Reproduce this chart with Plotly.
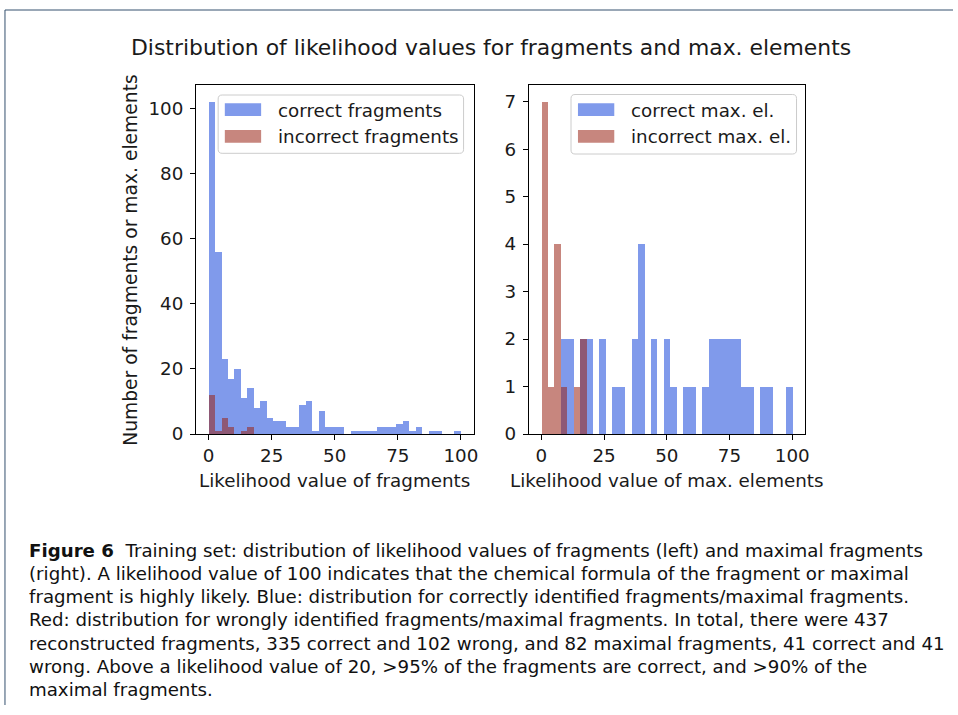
import numpy as np
import plotly.graph_objects as go

# ---------------- data ----------------
BIN_COUNT = 39          # histogram bins between 0 and 100
X_LOW, X_HIGH = 0, 100

frag_correct = [102, 56, 23, 17, 20, 11, 14, 8, 10, 5, 4, 4, 2, 2, 9, 10, 1, 7, 2, 2,
                2, 0, 1, 1, 1, 1, 2, 2, 2, 3, 4, 1, 2, 0, 1, 1, 0, 0, 1]
frag_incorrect = [12, 1, 5, 2, 0, 1, 2, 0, 0, 0, 0, 0, 0, 0, 0, 0, 0, 0, 0, 0,
                  0, 0, 0, 0, 0, 0, 0, 0, 0, 0, 0, 0, 0, 0, 0, 0, 0, 0, 0]
maxel_correct = [0, 0, 0, 2, 2, 0, 2, 2, 0, 2, 0, 1, 1, 0, 2, 4, 0, 2, 0, 2,
                 1, 0, 1, 1, 0, 1, 2, 2, 2, 2, 2, 1, 1, 0, 1, 1, 0, 0, 1]
maxel_incorrect = [7, 1, 4, 1, 0, 1, 2, 0, 0, 0, 0, 0, 0, 0, 0, 0, 0, 0, 0, 0,
                   0, 0, 0, 0, 0, 0, 0, 0, 0, 0, 0, 0, 0, 0, 0, 0, 0, 0, 0]

x_ticks = [0, 25, 50, 75, 100]
left_y_ticks = [0, 20, 40, 60, 80, 100]
right_y_ticks = [0, 1, 2, 3, 4, 5, 6, 7]

title_text = "Distribution of likelihood values for fragments and max. elements"
left_xlabel = "Likelihood value of fragments"
right_xlabel = "Likelihood value of max. elements"
ylabel = "Number of fragments or max. elements"
left_legend = ["correct fragments", "incorrect fragments"]
right_legend = ["correct max. el.", "incorrect max. el."]
caption_lines = [
    "<b>Figure 6</b>  Training set: distribution of likelihood values of fragments (left) and maximal fragments",
    "(right). A likelihood value of 100 indicates that the chemical formula of the fragment or maximal",
    "fragment is highly likely. Blue: distribution for correctly identified fragments/maximal fragments.",
    "Red: distribution for wrongly identified fragments/maximal fragments. In total, there were 437",
    "reconstructed fragments, 335 correct and 102 wrong, and 82 maximal fragments, 41 correct and 41",
    "wrong. Above a likelihood value of 20, >95% of the fragments are correct, and >90% of the",
    "maximal fragments.",
]

# ---------------- styling ----------------
W, H = 958, 715
K = 0.986            # vertical factor between figure pixels and the photographed page
BLUE = "rgba(65,105,225,0.67)"
RED = "rgba(153,35,20,0.55)"
FONT = "DejaVu Sans"
TXT = "#1a1a1a"
LBL = 18.3


def fx(px):
    return px / W


def fy(py):
    return 1 - (py / K) / H


edges = np.linspace(X_LOW, X_HIGH, BIN_COUNT + 1)
width = edges[1] - edges[0]
centers = edges[:-1] + width / 2

fig = go.Figure()


def add_bars(values, color, xa, ya):
    fig.add_trace(go.Bar(x=centers, y=values, width=width, marker=dict(color=color, line=dict(width=0)),
                         xaxis=xa, yaxis=ya, showlegend=False, hoverinfo="x+y"))


add_bars(frag_correct, BLUE, "x", "y")
add_bars(frag_incorrect, RED, "x", "y")
add_bars(maxel_correct, BLUE, "x2", "y2")
add_bars(maxel_incorrect, RED, "x2", "y2")

axis_common = dict(showline=True, linecolor="black", linewidth=1, mirror=True, ticks="outside",
                   ticklen=5, tickwidth=1, tickcolor="black", showgrid=False, zeroline=False,
                   tickfont=dict(family=FONT, size=LBL, color=TXT))

fig.update_layout(
    width=W, height=H, autosize=False, margin=dict(l=0, r=0, t=0, b=0, pad=0),
    paper_bgcolor="white", plot_bgcolor="white", barmode="overlay", bargap=0,
    xaxis=dict(domain=[fx(197), fx(476)], range=[-5, 105], tickvals=x_ticks, anchor="y", **axis_common),
    yaxis=dict(domain=[fy(434), fy(85)], range=[0, 107.1], tickvals=left_y_ticks, anchor="x",
               ticklabelstandoff=3, **axis_common),
    xaxis2=dict(domain=[fx(531.5), fx(809)], range=[-5, 105], tickvals=x_ticks, anchor="y2", **axis_common),
    yaxis2=dict(domain=[fy(434), fy(85)], range=[0, 7.35], tickvals=right_y_ticks, anchor="x2",
                ticklabelstandoff=3, **axis_common),
)

ann = []
shapes = []

# title
ann.append(dict(text=title_text, x=fx(494), y=fy(47), xref="paper", yref="paper", showarrow=False,
                xanchor="center", yanchor="middle", font=dict(family=FONT, size=21.9, color=TXT)))
# axis labels
ann.append(dict(text=left_xlabel, x=fx(336.5), y=fy(480), xref="paper", yref="paper", showarrow=False,
                xanchor="center", yanchor="middle", font=dict(family=FONT, size=LBL, color=TXT)))
ann.append(dict(text=right_xlabel, x=fx(670), y=fy(480), xref="paper", yref="paper", showarrow=False,
                xanchor="center", yanchor="middle", font=dict(family=FONT, size=LBL, color=TXT)))
ann.append(dict(text=ylabel, x=fx(131), y=fy(259.5), xref="paper", yref="paper", showarrow=False,
                textangle=-90, xanchor="center", yanchor="middle", font=dict(family=FONT, size=18.7, color=TXT)))


def rounded_rect(x0, y0, x1, y1, r):
    # pixel coordinates -> paper path with rounded corners
    pts = []
    pts.append(f"M {fx(x0 + r)},{fy(y0)}")
    pts.append(f"L {fx(x1 - r)},{fy(y0)}")
    pts.append(f"Q {fx(x1)},{fy(y0)} {fx(x1)},{fy(y0 + r)}")
    pts.append(f"L {fx(x1)},{fy(y1 - r)}")
    pts.append(f"Q {fx(x1)},{fy(y1)} {fx(x1 - r)},{fy(y1)}")
    pts.append(f"L {fx(x0 + r)},{fy(y1)}")
    pts.append(f"Q {fx(x0)},{fy(y1)} {fx(x0)},{fy(y1 - r)}")
    pts.append(f"L {fx(x0)},{fy(y0 + r)}")
    pts.append(f"Q {fx(x0)},{fy(y0)} {fx(x0 + r)},{fy(y0)} Z")
    return " ".join(pts)


def legend(box, patch_x, text_x, labels):
    x0, y0, x1, y1 = box
    shapes.append(dict(type="path", path=rounded_rect(x0, y0, x1, y1, 4), xref="paper", yref="paper",
                       line=dict(color="#cccccc", width=1), fillcolor="rgba(255,255,255,0.8)"))
    for (ya, yb, yc), col, lab in zip([(103.3, 116, 110), (130, 142.7, 136.5)], [BLUE, RED], labels):
        shapes.append(dict(type="rect", x0=fx(patch_x), x1=fx(patch_x + 36.5), y0=fy(yb), y1=fy(ya),
                           xref="paper", yref="paper", line=dict(width=0), fillcolor=col))
        ann.append(dict(text=lab, x=fx(text_x), y=fy(yc), xref="paper", yref="paper", showarrow=False,
                        xanchor="left", yanchor="middle", font=dict(family=FONT, size=LBL, color=TXT)))


legend((219.3, 95, 466, 153.3), 226, 277.5, left_legend)
legend((574, 94.5, 800.7, 154), 581, 632.5, right_legend)

# caption
for i, line in enumerate(caption_lines):
    ann.append(dict(text=line, x=fx(27), y=fy(550 + 23.3 * i), xref="paper", yref="paper", showarrow=False,
                    xanchor="left", yanchor="middle", font=dict(family="DejaVu Sans", size=18.2, color="#111")))

# page frame lines
shapes.append(dict(type="line", x0=fx(5), x1=1, y0=fy(10), y1=fy(10), xref="paper", yref="paper",
                   line=dict(color="#34506e", width=1)))
shapes.append(dict(type="line", x0=fx(5), x1=fx(5), y0=fy(10), y1=0, xref="paper", yref="paper",
                   line=dict(color="#34506e", width=1)))

fig.update_layout(annotations=ann, shapes=shapes)
fig.write_html("out.html",
               config={"responsive": False, "displayModeBar": False},
               post_script="document.body.style.margin='0px'; document.body.style.overflow='hidden';")
